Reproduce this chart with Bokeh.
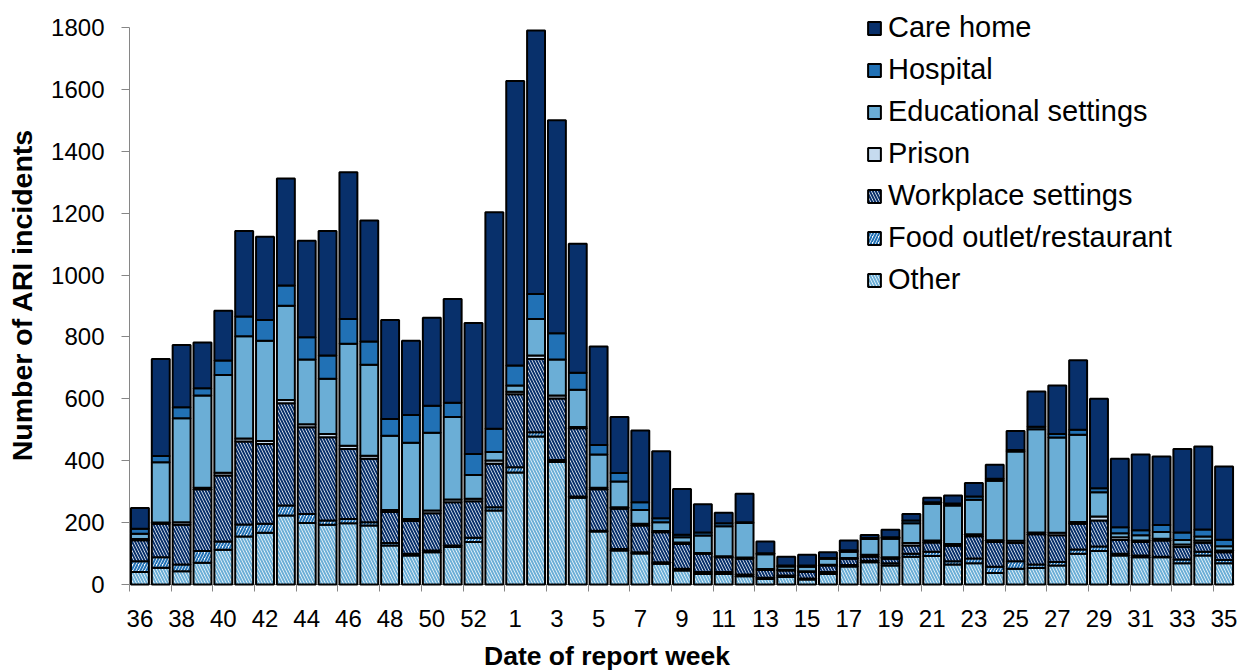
import math
from bokeh.plotting import figure
from bokeh.models import (ColumnDataSource, Range1d, FixedTicker, Legend, LegendItem, Label)
from bokeh.embed import file_html
from bokeh.resources import INLINE

# ---- data ----
weeks = [36, 37, 38, 39, 40, 41, 42, 43, 44, 45, 46, 47, 48, 49, 50, 51, 52, 53,
         1, 2, 3, 4, 5, 6, 7, 8, 9, 10, 11, 12, 13, 14, 15, 16, 17, 18, 19, 20,
         21, 22, 23, 24, 25, 26, 27, 28, 29, 30, 31, 32, 33, 34, 35]

other = [40, 54, 43, 70, 112, 155, 167, 223, 199, 193, 198, 191, 126, 94, 104, 121, 137, 239,
         362, 478, 396, 280, 171, 110, 100, 67, 45, 34, 34, 27, 18, 24, 16, 34, 58, 72, 61, 90,
         92, 65, 69, 37, 51, 53, 61, 99, 108, 94, 88, 88, 69, 94, 69]
food_outlet = [35, 34, 22, 38, 27, 39, 29, 32, 29, 14, 14, 10, 8, 5, 6, 5, 14, 11,
               17, 14, 6, 4, 3, 5, 4, 5, 6, 6, 6, 5, 4, 5, 3, 6, 5, 5, 8, 9,
               14, 10, 15, 20, 24, 12, 12, 14, 15, 5, 6, 2, 12, 12, 10]
workplace = [68, 108, 128, 200, 213, 268, 258, 331, 280, 269, 226, 205, 100, 106, 120, 140, 118, 140,
             236, 237, 199, 221, 134, 130, 87, 97, 80, 59, 48, 51, 25, 16, 21, 21, 20, 13, 14, 27,
             30, 50, 72, 80, 59, 97, 86, 83, 84, 45, 43, 52, 40, 29, 25]
prison = [4, 4, 8, 5, 9, 10, 10, 10, 10, 10, 10, 10, 7, 7, 9, 9, 8, 11,
          8, 11, 10, 4, 5, 5, 5, 4, 5, 3, 3, 4, 3, 3, 3, 3, 3, 6, 5, 8,
          6, 6, 6, 6, 7, 6, 8, 6, 13, 9, 5, 6, 8, 7, 6]
educational = [17, 195, 336, 298, 316, 330, 324, 305, 209, 179, 330, 294, 240, 246, 251, 266, 77, 27,
               20, 118, 116, 120, 107, 83, 45, 28, 17, 56, 97, 112, 48, 10, 14, 19, 20, 51, 60, 64,
               119, 124, 112, 192, 289, 334, 308, 282, 78, 13, 17, 22, 15, 13, 14]
hospital = [16, 20, 36, 23, 47, 64, 67, 65, 72, 75, 80, 75, 54, 90, 88, 46, 68, 75,
            65, 81, 85, 55, 31, 27, 25, 13, 8, 10, 10, 2, 3, 3, 4, 3, 5, 3, 5, 9,
            5, 7, 10, 7, 5, 8, 11, 16, 13, 19, 16, 22, 24, 23, 21]
care_home = [67, 314, 201, 148, 161, 276, 269, 346, 312, 402, 474, 391, 320, 240, 284, 336, 423, 700,
             919, 851, 688, 417, 318, 181, 232, 217, 148, 91, 34, 92, 38, 29, 35, 18, 31, 10, 24, 21,
             14, 26, 44, 45, 61, 114, 157, 225, 289, 221, 245, 222, 270, 268, 236]

series_keys = ["other", "food", "workplace", "prison", "educational", "hospital", "care_home"]
series_names = ["Other", "Food outlet/restaurant", "Workplace settings", "Prison",
                "Educational settings", "Hospital", "Care home"]
y_ticks = [0, 200, 400, 600, 800, 1000, 1200, 1400, 1600, 1800]
x_title = "Date of report week"
y_title = "Number of ARI incidents"

# ---- styles / layout (pixels on the canvas) ----
fill_colors = ["white", "white", "white", "#c6dbef", "#6baed6", "#2171b5", "#08306b"]
hatch_patterns = ["\\", "/", "\\", " ", " ", " ", " "]
hatch_colors = ["#6baed6", "#2171b5", "#08306b", "black", "black", "black", "black"]
AXIS_GREY = "#868686"
FONT = "Liberation Sans"
W, H = 1239, 671
PX_LEFT, PX_RIGHT, PX_TOP, PX_BOTTOM = 129, 1234, 27, 584

n = len(weeks)
xpp = n / (PX_RIGHT - PX_LEFT)                  # data units per pixel (x)
ypp = y_ticks[-1] / (PX_BOTTOM - PX_TOP)        # data units per pixel (y)
x0 = -0.5 - PX_LEFT * xpp
x1 = n - 0.5 + (W - PX_RIGHT) * xpp
y0 = -(H - PX_BOTTOM) * ypp
y1 = y_ticks[-1] + PX_TOP * ypp

pos = list(range(n))
source = ColumnDataSource(data=dict(
    x=pos, other=other, food=food_outlet, workplace=workplace, prison=prison,
    educational=educational, hospital=hospital, care_home=care_home))

# The frame fills the whole canvas; axes are pinned at the plot-area edges so
# that the legend and the titles can sit where the reference has them.
p = figure(width=W, height=H, output_backend="svg", toolbar_location=None,
           x_range=Range1d(x0, x1), y_range=Range1d(y0, y1),
           min_border_left=0, min_border_right=0, min_border_top=0, min_border_bottom=0)
p.outline_line_color = None
p.xgrid.visible = False
p.ygrid.visible = False
p.background_fill_color = "white"
p.border_fill_color = "white"

# axis lines (plot-area edges)
p.segment(x0=[-0.5, -0.5], y0=[y_ticks[0], y_ticks[0]], x1=[-0.5, n - 0.5],
          y1=[y_ticks[-1], y_ticks[0]], line_color=AXIS_GREY, line_width=1)

renderers = p.vbar_stack(series_keys, x="x", width=0.86, source=source,
                         fill_color=fill_colors, hatch_pattern=hatch_patterns,
                         hatch_color=hatch_colors, hatch_scale=6, hatch_weight=2,
                         line_color="black", line_width=2)

# x axis: labels every other week, ticks between categories
label_pos = [i for i in pos if i % 2 == 0]
xa = p.xaxis[0]
xa.fixed_location = 0
xa.ticker = FixedTicker(ticks=label_pos, minor_ticks=[i - 0.5 for i in label_pos])
xa.major_label_overrides = {i: str(weeks[i]) for i in label_pos}
xa.major_tick_out = 0
xa.major_tick_in = 0
xa.minor_tick_out = 7
xa.minor_tick_in = 0
xa.minor_tick_line_color = AXIS_GREY
xa.axis_line_color = None
xa.major_label_text_font = FONT
xa.major_label_text_font_size = "24px"
xa.major_label_text_color = "black"
xa.major_label_standoff = 18

# y axis
ya = p.yaxis[0]
ya.fixed_location = -0.5
ya.ticker = FixedTicker(ticks=y_ticks)
ya.major_tick_out = 8
ya.major_tick_in = 0
ya.minor_tick_out = 0
ya.minor_tick_in = 0
ya.major_tick_line_color = AXIS_GREY
ya.axis_line_color = None
ya.major_label_text_font = FONT
ya.major_label_text_font_size = "24px"
ya.major_label_text_color = "black"
ya.major_label_standoff = 17

# axis titles
p.add_layout(Label(x=-0.5 + (606.5 - PX_LEFT) * xpp, y=-(655 - PX_BOTTOM) * ypp,
                   text=x_title, text_align="center", text_baseline="alphabetic",
                   text_font=FONT, text_font_size="26.5px", text_font_style="bold",
                   text_color="black"))
p.add_layout(Label(x=-0.5 - (PX_LEFT - 21) * xpp, y=(PX_BOTTOM - 294.5) * ypp,
                   angle=math.pi / 2, text=y_title, text_align="center",
                   text_baseline="alphabetic", text_font=FONT, text_font_size="28.5px",
                   text_font_style="bold", text_color="black"))

items = [LegendItem(label=name, renderers=[r]) for name, r in zip(series_names, renderers)]
legend = Legend(items=items[::-1], location=(866, 375), orientation="vertical",
                glyph_width=16, glyph_height=16, label_standoff=6, spacing=9,
                padding=0, margin=0, border_line_color=None, background_fill_alpha=0,
                label_text_font=FONT, label_text_font_size="29px", label_text_color="black")
p.add_layout(legend)

open("out.html", "w").write(file_html(p, INLINE))
